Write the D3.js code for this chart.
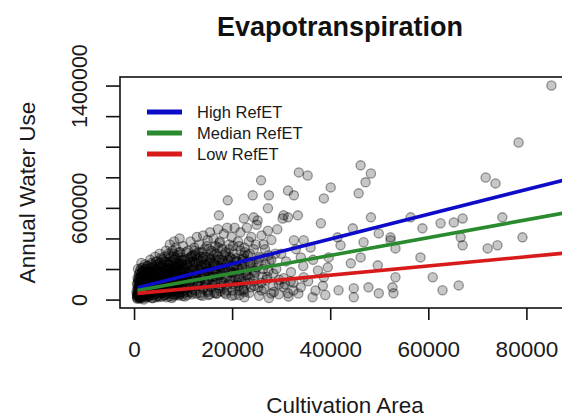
<!DOCTYPE html>
<html>
<head>
<meta charset="utf-8">
<script src="https://cdn.jsdelivr.net/npm/d3@7"></script>
<style>
  html, body { margin: 0; padding: 0; background: #fff; }
  svg { display: block; font-family: "Liberation Sans", Arial, Helvetica, sans-serif; }
</style>
</head>
<body>
<svg id="chart" width="562" height="418"></svg>
<script>
// Cultivation area of each site (x) and its annual water use (y), one entry per site.
const cultivationArea = [
  600,700,800,900,1000,1000,1100,1200,1200,1300,
  1400,1400,1500,1500,1600,1700,1700,1800,1900,2000,
  2000,2100,2200,2200,2300,2400,2500,2500,2600,2700,
  2800,2800,2900,3000,3000,900,1100,1300,1600,1900,
  650,750,1050,1250,1450,1750,2050,2350,2650,2950,
  1500,800,
  3100,3200,3300,3400,3500,3500,3600,3700,3800,3800,
  3900,4000,4000,4100,4200,4300,4400,4500,4500,4600,
  4700,4800,4900,5000,5000,5100,5200,5300,5400,5500,
  5500,5600,5700,5800,5900,6000,6000,3300,4300,5200,
  3600,4100,4600,5100,5700,
  6100,6200,6300,6400,6500,6600,6700,6800,6900,7000,
  7000,7100,7200,7300,7400,7500,7600,7700,7800,7900,
  8000,8000,8100,8200,8300,8400,8500,8500,8600,8700,
  8800,8900,9000,9000,9100,9200,9300,9400,9500,9600,
  9700,9800,9900,10000,10000,6500,7300,8200,9300,7700,
  10200,10300,10500,10600,10800,10900,11000,11100,11300,11400,
  11500,11600,11800,11900,12000,12100,12300,12400,12500,12600,
  12800,12900,13000,13100,13300,13400,13500,13600,13800,13900,
  14000,14100,14300,14400,14500,14700,14800,14900,15000,15000,
  15200,15400,15500,15700,15800,16000,16200,16300,16500,16600,
  16800,17000,17100,17300,17500,17600,17800,18000,18200,18300,
  18500,18700,18900,19000,19200,19400,19500,19700,19900,20000,
  20300,20500,20700,21000,21200,21500,21700,22000,22300,22500,
  22800,23000,23300,23600,23900,24200,24500,24800,25000,25300,
  25600,26000,26300,26700,27000,27300,27600,28000,28400,28800,
  29200,29500,
  20500,21500,22500,23500,24500,25500,26500,27500,28500,29500,
  30500,31500,32500,33500,
  30000,31000,32000,33000,34500,35500,36500,37500,38500,36000,
  29000,30500,32500,37000,39000,
  85100,78400,46200,48300,47200,45800,33600,35400,31400,32600,
  40100,38700,71700,73700,31400,33400,38100,44600,49900,52300,
  56400,58800,62500,65200,67000,75100,79200,67000,72100,74100,
  42100,46800,52300,53300,44200,49700,58400,60900,66200,62900,
  53300,52700,52900,49900,47800,44800,44800,41700,39500,38700,
  36400,34600,34000,31400,32600,34600,34000,39700,41500,46200,
  66600,25900,24200,27500,19100,27300,17300,24400,30500,48300,
  22400,25200,30300,
  550,650,750,850,950,1050,1150,1250,1350,1450,
  1550,1650,1750,1850,1950,2050,2150,2250,2350,2450,
  2550,2650,2750,2850,2950,3050,3150,3250,3350,3450,
  3550,3650,3750,3850,3950,
  4050,4250,4450,4650,4850,5050,5250,5450,5650,5850,
  6050,6250,6450,6650,6850,7050,7250,7450,7650,7850,
  8050,8250,8450,8650,8850,9050,9250,9450,9650,9850,
  4150,4550,4950,5350,5750,6150,6550,6950,7350,7750,
  8150,8550,8950,9350,9750,
  10150,10450,10750,11050,11350,11650,11950,12250,12550,12850,
  13150,13450,13750,14050,14350,14650,14950,15250,15550,15850,
  16150,16450,16750,17050,17350,17650,17950,18250,18550,18850,
  700,1200,1700,2200,2700,3200,3700,4200,4700,5200,
  5700,6200,6700,7200,7700,8200,8700,9200,9700,10200,
  20200,20800,21400,22000,22600,23200,23800,24400,25000,25600,
  26200,26800,27400,28000,
  520,580,640,720,780,860,920,980,1020,1080,
  1140,1180,1220,1280,1320,1380,1420,1480,1520,1580,
  1620,1680,1720,1780,1820,1880,1920,1980,2020,2080,
  2120,2180,2240,2280,2320,2380,2420,2480,2520,2580,
  2620,2680,2720,2780,2820,2880,2920,2980,3120,3280,
  3420,3580,3720,3880,4020,4180,4320,4480,4620,4780,
  4880,4960,5080,5160,5280,5380,5480,5580,5680,5780,
  5880,5980,6080,6180,6280,6380,6480,6580,6680,6780,
  6880,6980,7080,7180,7280,7380,7480,7580,7680,7780,
  7880,7980,8080,8180,8280,8380,8480,8580,8680,8780,
  8880,8980,9080,9180,9280,9380,9480,9580,9680,9780,
  9880,9980,10400,10800,11200,11600,12000,10600,11400,11800,
  12200,12700,13200,13700,14200,14700,15200,15700,16200,16700,
  17200,17700,18200,18700,19200,19700,20200,20700,21200,21700,
  22200,22700,23200,23700,12400,13400,14400,15400,16400,17400,
  18400,19400,20400,21400,22400,23400,24400,25400,26400,27400,
  8100,8400,8700,9000,9300,9600,9900,10200,10500,10800,
  11100,11400,11700,12000,12300,12600,12900,13200,13500,13800,
  14100,14400,14700,15000,15300,15600,15900,16200,16500,16800,
  17100,17400,17700,18000,18300,18600,18900,19200,19500,19800,
  20100,20400,20700,21000,21300,21600,21900,22200,22500,22800,
  8250,8850,9450,10050,10650,11250,11850,12450,13050,13650,
  14250,14850,15450,16050,16650,17250,17850,18450,19050,19650,
  20250,20850,21450,22050,22650,23250,23850,24450,9150,10350,
  11550,12750,13950,15150,16350,17550,18750,19950,21150,22350,
  23550,24750,25950,27150,28350,29550,30750,31950,26000,28000
];
const annualWaterUse = [
  12000,35000,60000,20000,90000,45000,8000,120000,70000,30000,
  150000,55000,15000,95000,180000,40000,110000,25000,75000,140000,
  1000,60000,200000,100000,35000,130000,80000,18000,165000,50000,
  115000,220000,28000,90000,150000,140000,170000,105000,130000,160000,
  25000,80000,30000,10000,75000,190000,85000,175000,70000,45000,
  240000,200000,
  20000,110000,60000,180000,35000,140000,85000,230000,10000,120000,
  55000,160000,95000,30000,200000,70000,130000,15000,250000,105000,
  45000,175000,80000,140000,25000,210000,65000,120000,40000,270000,
  155000,90000,190000,20000,130000,60000,235000,260000,280000,300000,
  165000,125000,215000,100000,50000,
  110000,30000,170000,75000,250000,140000,15000,205000,95000,300000,
  55000,160000,230000,120000,40000,280000,185000,85000,320000,140000,
  20000,215000,100000,260000,65000,175000,340000,125000,35000,240000,
  90000,195000,290000,150000,50000,225000,110000,310000,170000,70000,
  255000,130000,25000,200000,350000,320000,360000,380000,400000,10000,
  60000,150000,260000,100000,30000,210000,320000,170000,80000,240000,
  380000,130000,45000,290000,190000,110000,340000,60000,230000,150000,
  410000,270000,90000,200000,360000,120000,30000,250000,175000,310000,
  70000,420000,140000,225000,280000,100000,350000,190000,50000,390000,
  130000,260000,440000,80000,320000,180000,400000,230000,110000,350000,
  40000,280000,460000,160000,380000,210000,90000,330000,250000,430000,
  140000,300000,60000,470000,200000,360000,120000,270000,410000,170000,
  300000,470000,90000,220000,380000,150000,440000,260000,60000,340000,
  190000,470000,110000,300000,410000,230000,160000,360000,490000,80000,
  270000,420000,200000,330000,130000,450000,250000,390000,170000,300000,
  460000,100000,
  30000,60000,15000,45000,90000,25000,70000,10000,50000,35000,
  80000,20000,60000,40000,
  300000,250000,180000,330000,220000,120000,260000,190000,90000,340000,
  200000,140000,110000,60000,30000,
  1400000,1028000,878000,825000,767000,695000,832000,812000,714000,682000,
  734000,662000,799000,760000,538000,551000,499000,466000,433000,407000,
  538000,466000,499000,505000,531000,538000,407000,355000,335000,355000,
  355000,375000,388000,335000,237000,224000,276000,146000,93000,61000,
  146000,80000,41000,41000,80000,74000,15000,61000,211000,146000,
  15000,146000,80000,41000,388000,388000,276000,276000,407000,276000,
  407000,780000,682000,682000,649000,597000,551000,538000,551000,538000,
  531000,518000,531000,
  40000,15000,110000,50000,130000,65000,95000,22000,160000,115000,
  55000,85000,145000,65000,30000,120000,160000,50000,95000,70000,
  135000,105000,25000,170000,65000,145000,45000,190000,100000,75000,
  210000,50000,150000,95000,185000,
  65000,150000,90000,185000,120000,60000,165000,95000,220000,140000,
  80000,195000,110000,160000,60000,230000,140000,100000,200000,55000,
  165000,120000,215000,80000,150000,105000,250000,180000,125000,90000,
  115000,60000,230000,180000,110000,250000,70000,170000,200000,130000,
  280000,190000,80000,140000,230000,
  120000,200000,150000,270000,110000,190000,250000,130000,300000,170000,
  240000,140000,210000,280000,160000,230000,120000,200000,270000,150000,
  240000,190000,300000,130000,220000,160000,260000,110000,200000,240000,
  5000,18000,9000,26000,14000,33000,11000,40000,24000,17000,
  45000,29000,38000,21000,52000,34000,60000,27000,48000,41000,
  180000,250000,130000,200000,310000,160000,240000,120000,210000,280000,
  150000,230000,190000,260000,
  55000,100000,30000,140000,75000,120000,45000,165000,100000,60000,
  135000,25000,190000,85000,150000,45000,115000,205000,70000,125000,
  35000,160000,90000,210000,55000,130000,95000,185000,40000,155000,
  110000,70000,230000,140000,60000,175000,100000,35000,200000,145000,
  80000,220000,120000,55000,180000,105000,150000,70000,200000,130000,
  95000,240000,170000,60000,215000,140000,100000,185000,250000,130000,
  90000,200000,150000,60000,240000,120000,180000,75000,260000,140000,
  100000,210000,165000,50000,280000,130000,195000,90000,245000,155000,
  70000,220000,115000,290000,175000,85000,250000,135000,195000,60000,
  230000,150000,300000,105000,210000,170000,80000,270000,130000,220000,
  185000,95000,310000,160000,240000,120000,200000,275000,145000,80000,
  230000,175000,140000,230000,180000,280000,210000,310000,250000,160000,
  250000,180000,310000,220000,170000,260000,330000,200000,290000,150000,
  340000,240000,190000,310000,260000,220000,350000,270000,200000,320000,
  250000,180000,290000,230000,320000,280000,330000,240000,310000,370000,
  290000,330000,260000,350000,290000,380000,330000,240000,360000,290000,
  60000,170000,110000,230000,40000,140000,260000,90000,190000,50000,
  220000,120000,280000,70000,160000,240000,100000,200000,45000,150000,
  270000,110000,210000,60000,180000,250000,95000,150000,220000,40000,
  170000,260000,120000,200000,75000,230000,150000,100000,280000,180000,
  60000,220000,140000,250000,90000,190000,120000,270000,50000,160000,
  30000,100000,175000,210000,75000,145000,35000,290000,120000,210000,
  80000,180000,35000,125000,260000,75000,170000,45000,210000,130000,
  100000,175000,30000,215000,120000,250000,80000,190000,35000,20000,
  50000,40000,25000,30000,45000,55000,35000,25000,110000,70000,
  140000,180000,110000,150000,90000,130000,100000,120000,60000,40000
];

// Fitted water use = intercept + slope * area, one line per reference ET level.
const refEtLevels = ["High RefET", "Median RefET", "Low RefET"];
const fitIntercept = [72000, 56000, 38600];
const fitSlope = [8.1, 5.82, 3.02];
const fitAreaRange = [700, 88000];

const xTickValues = [0, 20000, 40000, 60000, 80000];
const yTickValues = [0, 200000, 400000, 600000, 800000, 1000000, 1200000, 1400000];
const yTickLabels = [0, 600000, 1400000];

const chartTitle = "Evapotranspiration";
const xTitle = "Cultivation Area";
const yTitle = "Annual Water Use";

// ---- styling ----
const levelColors = ["#0b0bc8", "#2a8a2e", "#d81a1a"];
const plot = { left: 120, right: 568, top: 77, bottom: 308 };

const svg = d3.select("#chart");

// R-style axis limits: data range widened by 4% on each side
function padded(values) {
  const [lo, hi] = d3.extent(values);
  const pad = (hi - lo) * 0.04;
  return [lo - pad, hi + pad];
}
const x = d3.scaleLinear().domain(padded(cultivationArea)).range([plot.left, plot.right]);
const y = d3.scaleLinear().domain(padded(annualWaterUse)).range([plot.bottom, plot.top]);

svg.append("defs").append("clipPath").attr("id", "plot-clip")
  .append("rect")
  .attr("x", plot.left).attr("y", plot.top)
  .attr("width", plot.right - plot.left).attr("height", plot.bottom - plot.top);

const sites = cultivationArea.map((a, i) => ({ area: a, water: annualWaterUse[i] }));

const body = svg.append("g").attr("clip-path", "url(#plot-clip)");

// scatter of sites, translucent so dense areas build up to black
body.append("g").selectAll("circle")
  .data(sites)
  .join("circle")
  .attr("cx", d => x(d.area))
  .attr("cy", d => y(d.water))
  .attr("r", 4.6)
  .attr("fill", "rgba(0,0,0,0.22)")
  .attr("stroke", "rgba(0,0,0,0.38)")
  .attr("stroke-width", 1.3);

// fitted lines
const fitLine = d3.line().x(d => x(d[0])).y(d => y(d[1]));
body.append("g").selectAll("path")
  .data(refEtLevels.map((name, i) => ({
    name,
    color: levelColors[i],
    pts: fitAreaRange.map(a => [a, fitIntercept[i] + fitSlope[i] * a])
  })))
  .join("path")
  .attr("d", d => fitLine(d.pts))
  .attr("fill", "none")
  .attr("stroke", d => d.color)
  .attr("stroke-width", 3.6);

// plot frame
svg.append("rect")
  .attr("x", plot.left).attr("y", plot.top)
  .attr("width", plot.right - plot.left).attr("height", plot.bottom - plot.top)
  .attr("fill", "none").attr("stroke", "#111").attr("stroke-width", 1.6);

// x axis
const xAxis = svg.append("g")
  .attr("transform", `translate(0,${plot.bottom})`)
  .call(d3.axisBottom(x).tickValues(xTickValues).tickSize(12).tickPadding(21).tickFormat(d3.format("d")));
xAxis.select(".domain").remove();
xAxis.selectAll(".tick line").attr("stroke", "#111").attr("stroke-width", 1.6);
xAxis.selectAll(".tick text")
  .attr("fill", "#1a1a1a")
  .style("font-size", "22.5px");

// y axis: ticks at every step, labels only where they fit
const yAxis = svg.append("g")
  .attr("transform", `translate(${plot.left},0)`)
  .call(d3.axisLeft(y).tickValues(yTickValues).tickSize(14)
    .tickFormat(d => yTickLabels.includes(d) ? d3.format("d")(d) : ""));
yAxis.select(".domain").remove();
yAxis.selectAll(".tick line").attr("stroke", "#111").attr("stroke-width", 1.6);
yAxis.selectAll(".tick text")
  .attr("x", null).attr("dy", null)
  .attr("transform", "translate(-33,0) rotate(-90)")
  .attr("text-anchor", "middle")
  .attr("fill", "#1a1a1a")
  .style("font-size", "21.5px");

// titles
svg.append("text")
  .attr("x", 340).attr("y", 36)
  .attr("text-anchor", "middle")
  .attr("font-weight", "bold")
  .attr("fill", "#111")
  .style("font-size", "27px")
  .text(chartTitle);

svg.append("text")
  .attr("x", 345).attr("y", 413)
  .attr("text-anchor", "middle")
  .attr("fill", "#1a1a1a")
  .style("font-size", "22.5px")
  .text(xTitle);

svg.append("text")
  .attr("transform", `translate(35,${(plot.top + plot.bottom) / 2}) rotate(-90)`)
  .attr("text-anchor", "middle")
  .attr("fill", "#1a1a1a")
  .style("font-size", "22.5px")
  .text(yTitle);

// legend
const legend = svg.append("g").attr("transform", "translate(147,112)");
const entry = legend.selectAll("g")
  .data(refEtLevels)
  .join("g")
  .attr("transform", (d, i) => `translate(0,${i * 21})`);
entry.append("line")
  .attr("x1", 0).attr("x2", 35).attr("y1", 0).attr("y2", 0)
  .attr("stroke", (d, i) => levelColors[i])
  .attr("stroke-width", 5);
entry.append("text")
  .attr("x", 50).attr("y", 5.5)
  .attr("fill", "#1a1a1a")
  .style("font-size", "16.5px")
  .text(d => d);
</script>
</body>
</html>
